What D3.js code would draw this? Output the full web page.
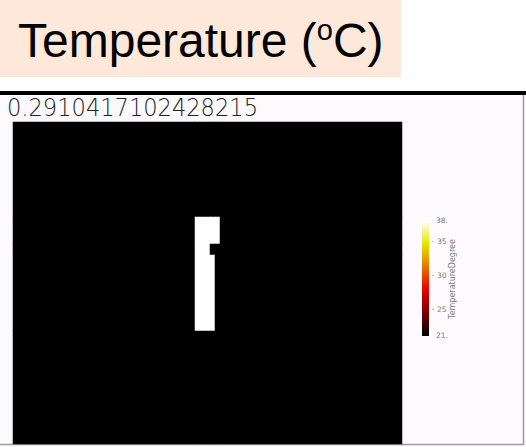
<!DOCTYPE html>
<html>
<head>
<meta charset="utf-8">
<script src="https://cdn.jsdelivr.net/npm/d3@7"></script>
<style>
  html, body { margin: 0; padding: 0; background: #ffffff; }
  svg { display: block; }
</style>
</head>
<body>
<svg id="chart" width="526" height="447"></svg>
<script>
// ---- data ----
const titleText = "Temperature (";
const titleSup = "o";
const titleEnd = "C)";
const timeLabel = "0.2910417102428215";
const fieldName = "TemperatureDegree";
const tempMin = 21;
const tempMax = 38;
const colorTicks = [35, 30, 25];
const endLabels = ["38.", "21."];
// temperature field on a rectilinear grid (cell edges, domain units)
const gridXEdges = [0, 182, 197, 202, 207, 389];
const gridYEdges = [0, 95, 122, 133, 209, 322];
const gridTemps = [
  [21, 21, 21, 21, 21],
  [21, 38, 38, 38, 21],
  [21, 38, 21, 21, 21],
  [21, 38, 38, 21, 21],
  [21, 21, 21, 21, 21]
];

// ---- drawing ----
const svg = d3.select("#chart");

// title panel
svg.append("rect").attr("x", 0).attr("y", 0).attr("width", 401).attr("height", 77)
  .attr("fill", "#fde8da");
const t = svg.append("text").attr("x", 18).attr("y", 57)
  .attr("font-family", "Liberation Sans, Arial, sans-serif")
  .attr("font-size", 48).attr("fill", "#000");
t.append("tspan").text(titleText);
t.append("tspan").attr("font-size", 29).attr("dy", -17).text(titleSup);
t.append("tspan").attr("dy", 17).text(titleEnd);

// frame
svg.append("rect").attr("x", 0).attr("y", 95).attr("width", 524).attr("height", 349)
  .attr("fill", "#fcfafc");
svg.append("line").attr("x1", 0).attr("x2", 526).attr("y1", 93).attr("y2", 93)
  .attr("stroke", "#000").attr("stroke-width", 4);
svg.append("line").attr("x1", 523.5).attr("x2", 523.5).attr("y1", 95).attr("y2", 445)
  .attr("stroke", "#9a9a9a").attr("stroke-width", 1.5);
svg.append("line").attr("x1", 0).attr("x2", 524).attr("y1", 444.5).attr("y2", 444.5)
  .attr("stroke", "#9a9a9a").attr("stroke-width", 1.5);

// time label
svg.append("text").attr("x", 7).attr("y", 116)
  .attr("font-family", "DejaVu Sans, sans-serif").attr("font-weight", 200)
  .attr("font-size", 25).attr("textLength", 251).attr("lengthAdjust", "spacingAndGlyphs")
  .attr("fill", "#222").text(timeLabel);

// color scale (black-body radiation)
const color = d3.scaleLinear()
  .domain([tempMin, tempMin + 0.4 * (tempMax - tempMin), tempMin + 0.8 * (tempMax - tempMin), tempMax])
  .range(["#000000", "#e60000", "#e6e600", "#ffffff"])
  .interpolate(d3.interpolateRgb);

// heatmap
const xS = d3.scaleLinear().domain([0, gridXEdges[gridXEdges.length - 1]]).range([13, 402]);
const yS = d3.scaleLinear().domain([0, gridYEdges[gridYEdges.length - 1]]).range([122, 444]);
const cells = [];
gridTemps.forEach((row, r) => row.forEach((v, c) => cells.push({r, c, v})));
svg.append("g").selectAll("rect").data(cells).join("rect")
  .attr("x", d => xS(gridXEdges[d.c]))
  .attr("y", d => yS(gridYEdges[d.r]))
  .attr("width", d => xS(gridXEdges[d.c + 1]) - xS(gridXEdges[d.c]))
  .attr("height", d => yS(gridYEdges[d.r + 1]) - yS(gridYEdges[d.r]))
  .attr("fill", d => color(d.v))
  .attr("stroke", d => color(d.v)).attr("stroke-width", 0.5);

// color bar
const defs = svg.append("defs");
const grad = defs.append("linearGradient").attr("id", "cb")
  .attr("x1", 0).attr("y1", 1).attr("x2", 0).attr("y2", 0);
d3.range(0, 1.0001, 0.05).forEach(f => {
  grad.append("stop").attr("offset", f).attr("stop-color", color(tempMin + f * (tempMax - tempMin)));
});
const cbY = d3.scaleLinear().domain([tempMin, tempMax]).range([336, 221]);
svg.append("rect").attr("x", 422).attr("y", cbY(tempMax)).attr("width", 7)
  .attr("height", cbY(tempMin) - cbY(tempMax)).attr("fill", "url(#cb)");
const axis = d3.axisRight(cbY).tickValues(colorTicks).tickSize(2).tickPadding(3)
  .tickFormat(d3.format("d"));
const ag = svg.append("g").attr("transform", "translate(432,0)").call(axis);
ag.select(".domain").remove();
ag.selectAll("line").attr("stroke", "#bbb");
ag.selectAll("text").attr("font-size", 7.5).attr("fill", "#7a7a7a")
  .attr("font-family", "DejaVu Sans, sans-serif");
svg.append("g").selectAll("text").data([tempMax, tempMin]).join("text")
  .attr("x", 436).attr("y", d => cbY(d)).attr("dy", "0.32em")
  .attr("font-size", 7.5).attr("fill", "#7a7a7a").attr("font-family", "DejaVu Sans, sans-serif")
  .text((d, i) => endLabels[i]);
svg.append("text").attr("transform", "translate(455,279) rotate(-90)")
  .attr("text-anchor", "middle").attr("font-size", 8).attr("fill", "#7a7a7a")
  .attr("font-family", "DejaVu Sans, sans-serif").text(fieldName);
</script>
</body>
</html>
